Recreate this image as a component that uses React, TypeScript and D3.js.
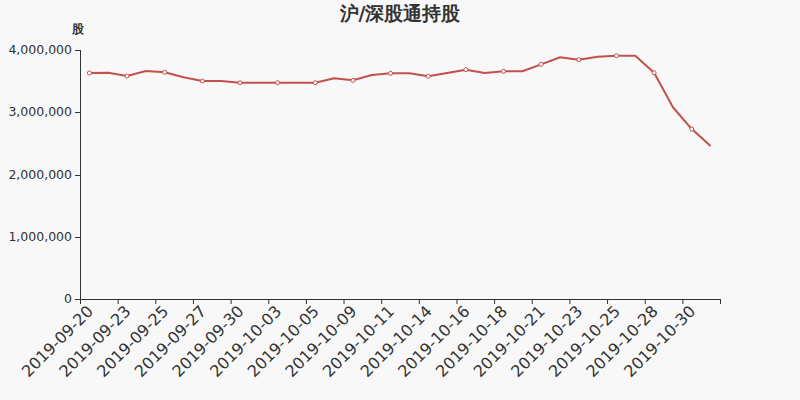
import React, { useEffect, useRef } from 'react';
import * as d3 from 'd3';

const dates = [
  '2019-09-20', '2019-09-22', '2019-09-23', '2019-09-24', '2019-09-25', '2019-09-26',
  '2019-09-27', '2019-09-29', '2019-09-30', '2019-10-02', '2019-10-03', '2019-10-04',
  '2019-10-05', '2019-10-08', '2019-10-09', '2019-10-10', '2019-10-11', '2019-10-13',
  '2019-10-14', '2019-10-15', '2019-10-16', '2019-10-17', '2019-10-18', '2019-10-20',
  '2019-10-21', '2019-10-22', '2019-10-23', '2019-10-24', '2019-10-25', '2019-10-27',
  '2019-10-28', '2019-10-29', '2019-10-30', '2019-10-31',
];

const holdings = [
  3631000, 3635000, 3582000, 3663000, 3642000, 3561000,
  3502000, 3502000, 3475000, 3475000, 3475000, 3475000,
  3475000, 3545000, 3513000, 3598000, 3626000, 3626000,
  3578000, 3631000, 3684000, 3631000, 3658000, 3658000,
  3770000, 3883000, 3844000, 3892000, 3908000, 3908000,
  3635000, 3080000, 2730000, 2458000,
];

const yTicks = [0, 1000000, 2000000, 3000000, 4000000];

const title = '沪/深股通持股';
const yName = '股';

const WIDTH = 800;
const HEIGHT = 400;
const LINE_COLOR = '#c4504d';
const AXIS_COLOR = '#333333';
const FONT = 'DejaVu Sans, sans-serif';

export default function App() {
  const svgRef = useRef<SVGSVGElement>(null);

  useEffect(() => {
    if (!svgRef.current) return;
    const svg = d3.select(svgRef.current);
    svg.selectAll('*').remove();

    const margin = { top: 50, right: 80, bottom: 101, left: 80 };
    const chartWidth = WIDTH - margin.left - margin.right;
    const chartHeight = HEIGHT - margin.top - margin.bottom;

    svg.append('rect')
      .attr('width', WIDTH)
      .attr('height', HEIGHT)
      .attr('fill', '#f8f8f8');

    // title
    svg.append('text')
      .attr('x', WIDTH / 2)
      .attr('y', 20)
      .attr('text-anchor', 'middle')
      .attr('fill', AXIS_COLOR)
      .attr('font-size', '19px')
      .attr('font-weight', 'bold')
      .attr('font-family', FONT)
      .text(title);

    const g = svg.append('g')
      .attr('transform', `translate(${margin.left},${margin.top})`);

    const xScale = d3.scaleBand()
      .domain(dates)
      .range([0, chartWidth])
      .padding(0);

    const yScale = d3.scaleLinear()
      .domain([0, 4000000])
      .range([chartHeight, 0]);

    const cx = (d: string) => (xScale(d) || 0) + xScale.bandwidth() / 2;

    // y axis
    g.append('line')
      .attr('x1', 0.5).attr('x2', 0.5)
      .attr('y1', 0).attr('y2', chartHeight)
      .attr('stroke', AXIS_COLOR);

    g.selectAll('.y-tick')
      .data(yTicks)
      .enter()
      .append('line')
      .attr('class', 'y-tick')
      .attr('x1', -5).attr('x2', 0)
      .attr('y1', d => Math.round(yScale(d)) + 0.5)
      .attr('y2', d => Math.round(yScale(d)) + 0.5)
      .attr('stroke', AXIS_COLOR);

    g.selectAll('.y-label')
      .data(yTicks)
      .enter()
      .append('text')
      .attr('class', 'y-label')
      .attr('x', -8)
      .attr('y', d => yScale(d) + 4)
      .attr('text-anchor', 'end')
      .attr('fill', AXIS_COLOR)
      .attr('font-size', '12.5px')
      .attr('font-family', FONT)
      .text(d => d3.format(',')(d));

    g.append('text')
      .attr('x', -2)
      .attr('y', -17)
      .attr('text-anchor', 'middle')
      .attr('fill', AXIS_COLOR)
      .attr('font-size', '12px')
      .attr('font-weight', 'bold')
      .attr('font-family', FONT)
      .text(yName);

    // x axis
    g.append('line')
      .attr('x1', 0).attr('x2', chartWidth)
      .attr('y1', chartHeight + 0.5).attr('y2', chartHeight + 0.5)
      .attr('stroke', AXIS_COLOR);

    const tickIdx = d3.range(0, dates.length + 1, 2);
    g.selectAll('.x-tick')
      .data(tickIdx)
      .enter()
      .append('line')
      .attr('class', 'x-tick')
      .attr('x1', i => (i < dates.length ? (xScale(dates[i]) || 0) : chartWidth) + 0.5)
      .attr('x2', i => (i < dates.length ? (xScale(dates[i]) || 0) : chartWidth) + 0.5)
      .attr('y1', chartHeight)
      .attr('y2', chartHeight + 5)
      .attr('stroke', AXIS_COLOR);

    const labelDates = dates.filter((_, i) => i % 2 === 0);
    g.selectAll('.x-label')
      .data(labelDates)
      .enter()
      .append('text')
      .attr('class', 'x-label')
      .attr('transform', d => `translate(${cx(d) - 1.5},${chartHeight + 7}) rotate(-45)`)
      .attr('text-anchor', 'end')
      .attr('dy', '0.55em')
      .attr('fill', AXIS_COLOR)
      .attr('font-size', '16px')
      .attr('font-family', FONT)
      .text(d => d);

    // line
    const line = d3.line<number>()
      .x((_, i) => cx(dates[i]))
      .y(d => yScale(d));

    g.append('path')
      .datum(holdings)
      .attr('d', line)
      .attr('fill', 'none')
      .attr('stroke', LINE_COLOR)
      .attr('stroke-width', 2)
      .attr('stroke-linejoin', 'round');

    g.selectAll('.dot')
      .data(holdings.map((v, i) => ({ v, i })).filter(d => d.i % 2 === 0))
      .enter()
      .append('circle')
      .attr('class', 'dot')
      .attr('cx', d => cx(dates[d.i]))
      .attr('cy', d => yScale(d.v))
      .attr('r', 2)
      .attr('fill', '#ffffff')
      .attr('stroke', LINE_COLOR)
      .attr('stroke-width', 1);
  }, []);

  return (
    <svg
      ref={svgRef}
      width={WIDTH}
      height={HEIGHT}
      style={{ position: 'absolute', left: 0, top: 0, display: 'block' }}
    />
  );
}
